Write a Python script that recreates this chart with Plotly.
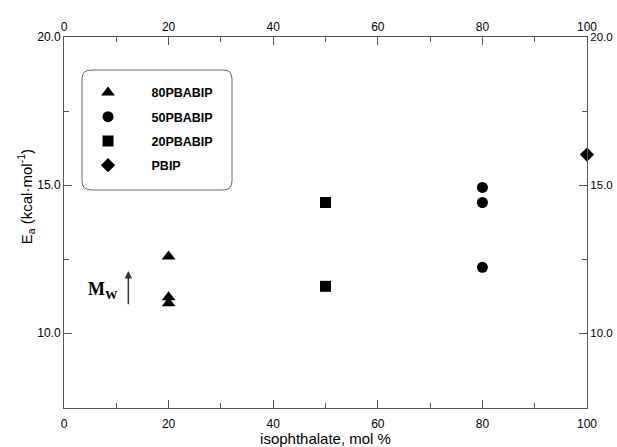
import plotly.graph_objects as go

# data
tri_x = [20, 20, 20]
tri_y = [12.59, 11.21, 11.01]
cir_x = [80, 80, 80]
cir_y = [14.92, 14.41, 12.22]
sq_x = [50, 50]
sq_y = [14.41, 11.58]
dia_x = [100]
dia_y = [16.03]

series_names = ["80PBABIP", "50PBABIP", "20PBABIP", "PBIP"]
x_ticks = [0, 20, 40, 60, 80, 100]
y_ticks = [10.0, 15.0, 20.0]
y_tick_labels = ["10.0", "15.0", "20.0"]

XR = [0, 100]
YR = [7.47, 20.0]

L, R = 64, 587
PW = R - L

fig = go.Figure()
series = [
    (tri_x, tri_y, "triangle-up", 12),
    (cir_x, cir_y, "circle", 11),
    (sq_x, sq_y, "square", 11),
    (dia_x, dia_y, "diamond", 11),
]
for name, (xs, ys, sym, sz) in zip(series_names, series):
    fig.add_trace(go.Scatter(
        x=xs, y=ys, mode="markers", name=name, legendgroup=name,
        marker=dict(symbol=sym, size=sz, color="black", line=dict(width=0)),
        cliponaxis=False,
    ))

# invisible trace to activate top/right axes
fig.add_trace(go.Scatter(x=[None], y=[None], xaxis="x2", yaxis="y2",
                         showlegend=False, hoverinfo="skip"))

axcol = "#555555"
tickfont = dict(family="Arial", size=12, color="black")
common = dict(showgrid=False, zeroline=False, showline=True, linecolor=axcol,
              linewidth=1, ticks="inside", ticklen=8, tickcolor=axcol,
              tickfont=tickfont, automargin=False)

fig.update_layout(
    width=617, height=447,
    margin=dict(l=L, r=617 - R, t=37, b=39),
    paper_bgcolor="white", plot_bgcolor="white",
    showlegend=True,
    legend=dict(x=0.001, y=0.89, xanchor="left", yanchor="top",
                font=dict(family="Arial", size=12.5, color="black", weight="bold"),
                bgcolor="rgba(0,0,0,0)", borderwidth=0,
                itemwidth=77, tracegroupgap=5, traceorder="grouped"),
    xaxis=dict(range=XR, tickvals=x_ticks, ticktext=[str(v) for v in x_ticks],
               minor=dict(tickvals=[10, 30, 50, 70, 90], ticklen=5, tickcolor=axcol, ticks="inside"),
               ticklabelstandoff=5,
               title=dict(text="isophthalate, mol %", font=dict(family="Arial", size=15, color="black"), standoff=3),
               **common),
    xaxis2=dict(range=XR, overlaying="x", side="top", anchor="y",
                tickvals=x_ticks, ticktext=[str(v) for v in x_ticks],
                minor=dict(tickvals=[10, 30, 50, 70, 90], ticklen=5, tickcolor=axcol, ticks="inside"),
                **common),
    yaxis=dict(range=YR, tickvals=y_ticks, ticktext=y_tick_labels,
               minor=dict(tickvals=[12.5, 17.5], ticklen=5, tickcolor=axcol, ticks="inside"),
               **common),
    yaxis2=dict(range=YR, overlaying="y", side="right", anchor="x",
                tickvals=y_ticks, ticktext=y_tick_labels,
                minor=dict(tickvals=[12.5, 17.5], ticklen=5, tickcolor=axcol, ticks="inside"),
                **{**common, "tickfont": dict(family="Arial", size=11.5, color="black")}),
)

# rounded legend box
x0, x1 = (82 - L) / PW, (232 - L) / PW
y1, y0 = (408 - 70) / 371, (408 - 190) / 371
rx, ry = 9 / PW, 9 / 371
path = (f"M {x0+rx},{y1} L {x1-rx},{y1} Q {x1},{y1} {x1},{y1-ry} "
        f"L {x1},{y0+ry} Q {x1},{y0} {x1-rx},{y0} L {x0+rx},{y0} "
        f"Q {x0},{y0} {x0},{y0+ry} L {x0},{y1-ry} Q {x0},{y1} {x0+rx},{y1} Z")
fig.add_shape(type="path", path=path, xref="paper", yref="paper",
              line=dict(color="#666666", width=1))

# y-axis title
fig.add_annotation(text="E<sub>a</sub> (kcal·mol<sup>-1</sup>)", textangle=-90,
                   xref="paper", yref="paper", x=-0.098, y=(408 - 197) / 371,
                   showarrow=False, font=dict(family="Arial", size=15, color="black"))

# Mw arrow
fig.add_annotation(x=12.3, y=12.1, ax=12.3, ay=10.92, xref="x", yref="y",
                   axref="x", ayref="y", text="", showarrow=True,
                   arrowhead=2, arrowsize=1, arrowwidth=1.5, arrowcolor="#333333")
fig.add_annotation(text="<b>M<sub>W</sub></b>", x=7.4, y=11.45, xref="x", yref="y",
                   showarrow=False,
                   font=dict(family="Liberation Serif, Times New Roman", size=18, color="black"))

fig.write_html("out.html")
